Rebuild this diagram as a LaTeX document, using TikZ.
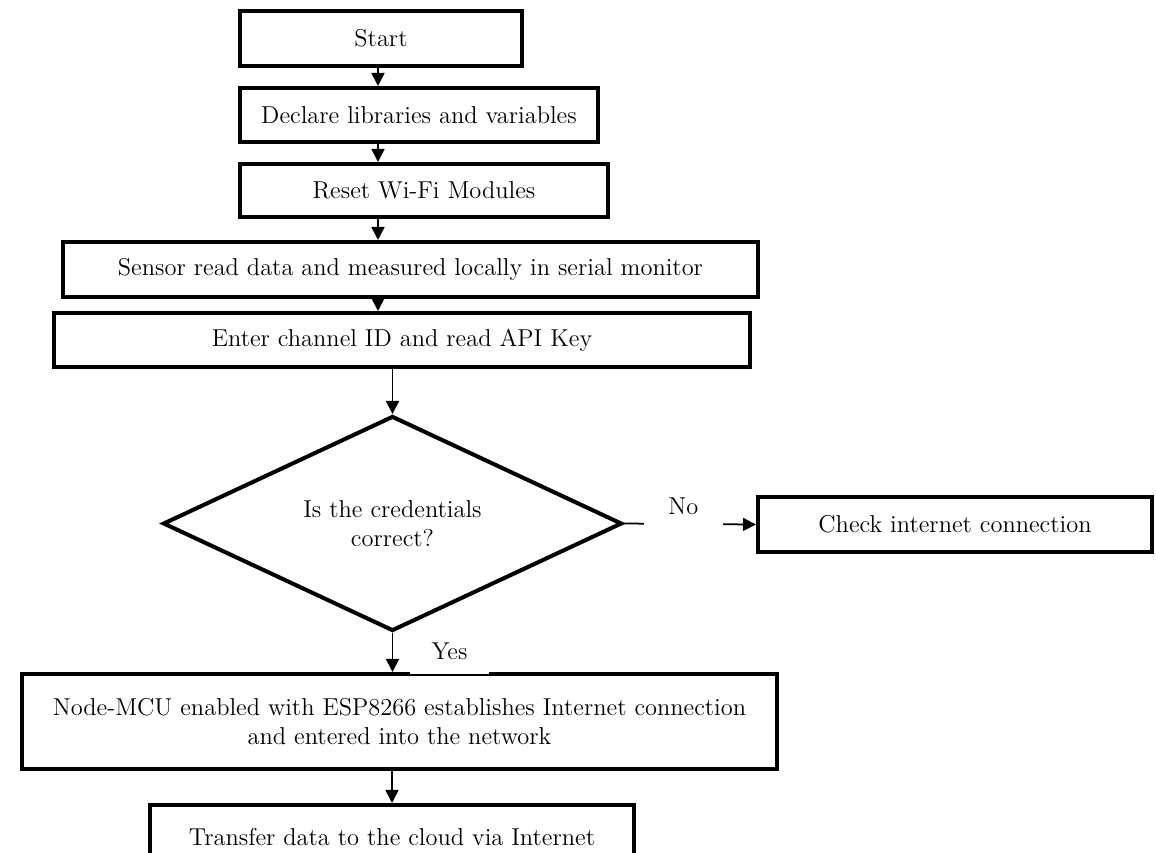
\documentclass[tikz,border=0pt]{standalone}
\usetikzlibrary{shapes.geometric,arrows.meta}
\begin{document}
\begin{tikzpicture}[x=0.2mm,y=-0.2mm,
  every node/.style={font=\fontsize{13.9}{16.5}\selectfont, inner sep=0pt},
  box/.style={draw, line width=2.3pt, align=center},
  cond/.style={draw, diamond, aspect=2.13, line width=2.3pt, align=center},
  lbl/.style={fill=white, minimum width=1.58cm, minimum height=0.88cm},
  arr/.style={line width=1pt, -{Triangle[length=2.6mm, width=2.6mm]}}]
\useasboundingbox (0,0) rectangle (1156,852);
\node[box, minimum width=5.64cm, minimum height=1.10cm] (start) at (381, 38.5) {Start};
\node[box, minimum width=7.16cm, minimum height=1.08cm] (decl) at (419, 115) {Declare libraries and variables};
\node[box, minimum width=7.36cm, minimum height=1.06cm] (reset) at (424, 190.5) {Reset Wi-Fi Modules};
\node[box, minimum width=13.9cm, minimum height=1.10cm] (sensor) at (410.5, 269.5) {Sensor read data and measured locally in serial monitor};
\node[box, minimum width=13.92cm, minimum height=1.08cm] (enter) at (402, 340) {Enter channel ID and read API Key};
\node[cond, minimum width=9.18cm, minimum height=4.30cm] (cred) at (392.5, 523.5) {Is the credentials\\correct?};
\node[box, minimum width=7.88cm, minimum height=1.10cm] (check) at (955, 524.5) {Check internet connection};
\node[box, minimum width=15.1cm, minimum height=1.90cm] (mcu) at (399.5, 721.5) {Node-MCU enabled with ESP8266 establishes Internet connection\\and entered into the network};
\node[box, minimum width=9.68cm, minimum height=1.30cm] (cloud) at (392, 837.5) {Transfer data to the cloud via Internet};
\coordinate (spine) at (378, 0);
\draw[arr] (start.south -| spine) -- (decl.north -| spine);
\draw[arr] (decl.south -| spine) -- (reset.north -| spine);
\draw[arr] (reset.south -| spine) -- (sensor.north -| spine);
\draw[arr] (sensor.south -| spine) -- (enter.north -| spine);
\draw[arr] (enter.south -| cred.north) -- (cred.north);
\draw[arr] (cred.east) -- node[lbl, pos=0.45, yshift=0.36cm] {No} (check.west);
\draw[arr] (cred.south) -- node[lbl, pos=0.5, xshift=1.14cm, yshift=0.02cm] {Yes} (cred.south |- mcu.north);
\draw[arr] (mcu.south -| cloud.north) -- (cloud.north);
\end{tikzpicture}
\end{document}
